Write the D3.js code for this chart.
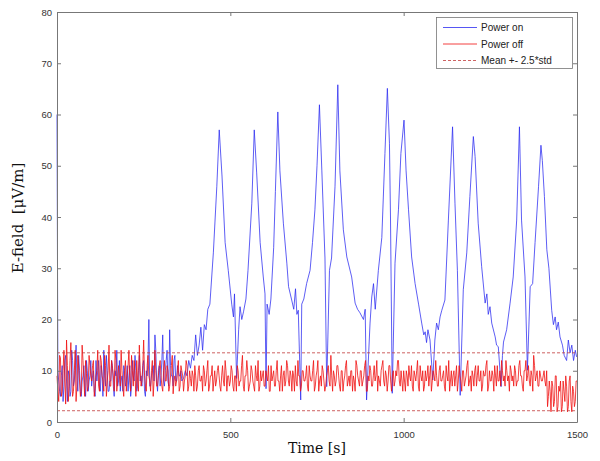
<!DOCTYPE html>
<html>
<head>
<meta charset="utf-8">
<script src="https://cdn.jsdelivr.net/npm/d3@7"></script>
<style>
  body { margin: 0; background: #fff; }
  svg { display: block; }
  .tick text { font-family: "Liberation Sans", Arial, sans-serif; font-size: 9.5px; fill: #333; }
</style>
</head>
<body>
<svg id="svg" width="600" height="461"></svg>
<script>
// values, 5 s sampling plus the half-step samples in between
var step = 5;

// red trace, "Power off", t = 0, 5, ..., 1500
var redValues = [
  9,4,12.5,6,14,3.5,11,7,15.5,5,10,4,13,8,6,12,5,9.5,7,11,
  8,12,6.5,10,7,13,9,6,11,8,15,7,10.5,6,12,8,9,14,7,10,
  6,11,8,13,7,9,12,6,10,8,16,7,11,9,6,12,8,10,7,11,
  9,6,12,8,10,7,11,5.5,9,8,12,7,10,6,9,11,7,8.5,10,6,
  9,7,11,8,6,10,8,12,7,9,6,10,8,11,7,9,8,12,6,9,
  8,10,6,9,11,7,8,13,6,9,10,7,11,8,6,9,12,7,8,10,
  7,9,11,6,8,10,7,12,8,9,6,10,8,11,7,9,10,6,8,12,
  9,7,10,8,11,6,9,8,12,7,10,6,9,11,8,7,10,8,13,6,
  9,8,11,7,10,6,9,12,8,7,10,9,6,11,8,10,7,9,12,6,
  8,10,7,11,9,6,8,10,12,7,9,8,11,6,10,8,9,12,7,8,
  10,6,9,11,8,7,10,8,12,6,9,10,7,8,11,9,6,10,8,9,
  7,11,8,10,6,9,12,8,7,10,9,6,11,8,10,7,9,12,8,6,
  9,10,7,11,8,6,10,9,12,7,8,10,6,9,11,8,7,10,9,12,
  8,6,10,9,11,7,8,12,9,6,10,8,11,7,9,13,8,10,7,9,
  8,10,7,3,8,2,7,4,9,3,6,2,8,4,7,3,9,2,6,4,8
];

// red trace at t = 2.5, 7.5, ..., 1497.5
var redHalf = [
  6,13,5,10,8,16,4,12,9,6,14,7,11,5,15,8,12,6,13,9,
  11,5,9,14,6,12,8,13,5,10,7,12,9,14,6,11,7,10,5,12,
  9,14,6,10,12,5,8,15,7,11,9,6,13,8,10,5,14,7,9,12,
  7,10,8,11,6,9,13,8,7,10,6,11,9,8,12,6,10,7,9,11,
  6,10,8,9,11,7,10,6,9,11,8,7,10,9,6,11,7,10,9,7,
  11,7,9,6,10,8,11,7,9,12,6,8,10,7,11,8,6,10,9,7,
  10,8,6,11,9,7,10,8,6,11,9,7,12,8,10,6,9,11,7,9,
  6,10,8,9,7,11,8,10,6,9,12,8,7,10,6,9,11,7,9,10,
  7,11,9,6,10,8,11,7,9,10,6,8,12,9,7,10,8,11,6,9,
  11,7,9,8,12,9,7,11,8,10,6,11,8,9,7,10,12,8,10,6,
  8,10,7,9,11,6,9,10,7,11,8,6,10,9,7,11,8,9,12,7,
  10,8,9,7,11,8,6,10,9,7,11,8,9,6,10,8,11,7,9,10,
  7,11,9,8,10,7,9,11,6,10,8,9,11,7,8,10,12,8,7,10,
  9,11,8,7,10,8,11,9,7,10,12,9,8,10,6,11,9,7,10,8,
  9,8,10,5,6,8,3,9,2,7,8,3,6,9,2,8,4,7,3,8
];

// blue trace, "Power on", first part at t = 0, 5, ..., 355
var blueEarly = [
  60,8,5,11,7,13,4,9,6,12,8,15,6,10,5,9,7,12,6,9,
  7,10,5,8,12,6,9,14,7,10,6,8,11,5,9,7,12,8,6,10,
  8,6,11,7,9,13,6,10,8,7,12,5,9,20,7,10,8,14,6,11,
  9,17,7,12,8,18,9,7,13,8,10,9
];

// blue first part at t = 2.5, 7.5, ..., 357.5
var blueEarlyHalf = [
  10,6,9,4,12,8,10,5,14,7,11,9,13,6,8,11,5,10,8,12,
  9,6,12,10,7,11,5,9,13,6,8,12,7,10,14,8,6,9,11,7,
  11,9,5,12,8,10,7,13,9,11,6,10,12,7,9,11,17,8,10,7,
  12,8,10,14,7,11,9,12,8,11,9,10
];

// blue trace after 360 s, [time, value]
var blueLater = [
  [360,8],[365,8.5],[370,10],[375,9],[380,12],[385,10.5],[390,13],[395,12],[400,17],[405,13],
  [410,15],[415,18.5],[420,14],[425,19],[430,18],[435,22],[441,23],[451,33],[461,46],[468,57],
  [476,48],[485,35],[494,29.6],[504,23],[509,20.5],[512,25],[518,8.5],[524,18],[528,22.5],[533,20],
  [538,21.5],[545,24],[551,29.6],[562,42.7],[569,57],[576,48.6],[586,35],[595,28.3],[600,25],[603,6.5],
  [606,23],[612,21],[617,24],[625,34],[630,45],[637,60.5],[643,49],[653,38.8],[663,31],[668,26.4],
  [677,23.8],[683,22],[688,26],[692,21],[696,21.8],[703,4.3],[706,23],[712,24],[720,27],[730,29.6],
  [737,35],[744,41.4],[750,50],[757,61.9],[764,49],[773,32],[778,6.9],[786,29.6],[792,32],[802,46],
  [810,65.8],[816,49],[826,37.5],[836,32.2],[850,28.3],[860,23.2],[867,22],[874,21.3],[884,20],[889,22],
  [893,4.3],[903,19.3],[908,24.4],[913,27],[918,22],[927,29.6],[937,36],[946,52.4],[953,65.1],[959,54.4],
  [962,40],[967,5.6],[975,31],[985,41.4],[992,52.4],[1001,58.9],[1007,49],[1014,41.4],[1023,32.2],[1033,27],
  [1043,23],[1052,19.3],[1058,17],[1062,17.6],[1066,15.5],[1070,18],[1076,16],[1084,8.2],[1090,16],[1095,19.3],
  [1100,18],[1105,20.5],[1110,21.8],[1119,23.8],[1129,39.4],[1141,57.6],[1148,42.7],[1155,29.6],[1163,5.2],[1172,25.8],
  [1182,33],[1191,44],[1201,55.7],[1206,51.8],[1215,38.8],[1225,30.3],[1235,23.2],[1240,25],[1244,21],[1249,22.5],
  [1254,19.3],[1264,16.6],[1268,15],[1273,14.7],[1281,6.9],[1285,13],[1288,15.6],[1297,18],[1307,23.2],[1316,28.3],
  [1326,39.4],[1334,57.6],[1340,39.4],[1350,28.3],[1357,10.1],[1365,26.4],[1372,27],[1379,35],[1389,45.9],[1396,54],
  [1400,51],[1406,44],[1413,33.6],[1419,30],[1427,21.8],[1432,19],[1437,20.5],[1441,18],[1446,19.5],[1451,16.6],
  [1458,15],[1463,13],[1470,12],[1475,16],[1480,13.5],[1485,15],[1490,12],[1495,14],[1499,12.7]
];

var meanUpper = 13.5, meanLower = 2.2;
var xTicks = [0, 500, 1000, 1500];
var yTicks = [0, 10, 20, 30, 40, 50, 60, 70, 80];
var legendLabels = ["Power on", "Power off", "Mean +- 2.5*std"];

var svg = d3.select("svg");
var mLeft = 57, mRight = 577, mTop = 12, mBottom = 422;

var x = d3.scaleLinear().domain([0, 1500]).range([mLeft, mRight]);
var y = d3.scaleLinear().domain([0, 80]).range([mBottom, mTop]);

function merge(full, half) {
  var pts = full.map(function(v, i) { return [i * step, v]; })
    .concat(half.map(function(v, i) { return [i * step + step / 2, v]; }));
  return pts.sort(function(a, b) { return a[0] - b[0]; });
}

var blue = merge(blueEarly, blueEarlyHalf).concat(blueLater);
var red = merge(redValues, redHalf);

var line = d3.line().x(function(d) { return x(d[0]); }).y(function(d) { return y(d[1]); });

var axisColor = "#777";
var blueColor = "#2b2bf0", redColor = "#f01010", dashColor = "#c03a3a";

// data lines, blue first like matlab draws them
svg.append("path").datum(blue)
  .attr("d", line).attr("fill", "none")
  .attr("stroke", blueColor).attr("stroke-width", 0.85).attr("stroke-opacity", 0.9);

svg.append("path").datum(red)
  .attr("d", line).attr("fill", "none")
  .attr("stroke", redColor).attr("stroke-width", 0.8);

[meanUpper, meanLower].forEach(function(m) {
  svg.append("line")
    .attr("x1", x(0)).attr("x2", x(1500)).attr("y1", y(m)).attr("y2", y(m))
    .attr("stroke", dashColor).attr("stroke-width", 0.8).attr("stroke-dasharray", "3,2");
});

function styleAxis(g) {
  g.select(".domain").attr("stroke", axisColor);
  g.selectAll(".tick line").attr("stroke", axisColor);
}

// axes, ticks inside on all four sides
svg.append("g").attr("transform", "translate(0," + mBottom + ")")
  .call(d3.axisBottom(x).tickValues(xTicks).tickFormat(d3.format("d")).tickSizeInner(-4).tickSizeOuter(0).tickPadding(9))
  .call(styleAxis);
svg.append("g").attr("transform", "translate(0," + mTop + ")")
  .call(d3.axisTop(x).tickValues(xTicks).tickSizeInner(-4).tickSizeOuter(0).tickFormat(""))
  .call(styleAxis);
svg.append("g").attr("transform", "translate(" + mLeft + ",0)")
  .call(d3.axisLeft(y).tickValues(yTicks).tickSizeInner(-4).tickSizeOuter(0).tickPadding(5))
  .call(styleAxis);
svg.append("g").attr("transform", "translate(" + mRight + ",0)")
  .call(d3.axisRight(y).tickValues(yTicks).tickSizeInner(-4).tickSizeOuter(0).tickFormat(""))
  .call(styleAxis);

// axis titles
svg.append("text")
  .attr("x", (mLeft + mRight) / 2).attr("y", 453)
  .attr("text-anchor", "middle")
  .style("font-family", "'DejaVu Serif', 'Liberation Serif', serif").style("font-size", "14px").style("fill", "#111")
  .text("Time [s]");

svg.append("text")
  .attr("transform", "translate(23,218) rotate(-90)")
  .attr("text-anchor", "middle")
  .style("font-family", "'DejaVu Serif', 'Liberation Serif', serif").style("font-size", "15px").style("fill", "#111")
  .style("white-space", "pre")
  .text("E-field  [\u03bcV/m]");

// legend
var lg = svg.append("g");
lg.append("rect").attr("x", 436.5).attr("y", 17.5).attr("width", 136).attr("height", 51)
  .attr("fill", "#fff").attr("stroke", axisColor).attr("stroke-width", 0.8);
var legendStyle = [
  { color: blueColor, dash: null },
  { color: redColor, dash: null },
  { color: dashColor, dash: "3,2" }
];
legendLabels.forEach(function(label, i) {
  var ly = 27.5 + i * 16.5;
  lg.append("line").attr("x1", 443).attr("x2", 477).attr("y1", ly).attr("y2", ly)
    .attr("stroke", legendStyle[i].color).attr("stroke-width", 0.8)
    .attr("stroke-dasharray", legendStyle[i].dash);
  lg.append("text").attr("x", 481).attr("y", ly + 3.5)
    .style("font-family", "'Liberation Sans', Arial, sans-serif").style("font-size", "10px").style("fill", "#222")
    .text(label);
});
</script>
</body>
</html>
